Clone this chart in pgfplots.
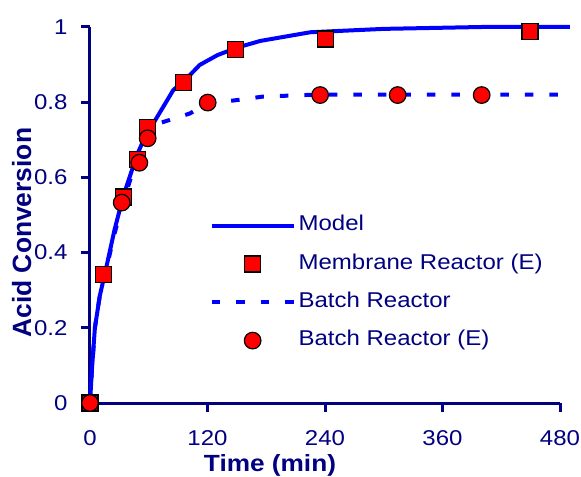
\documentclass[border=0pt]{standalone}
\usepackage{pgfplots}
\pgfplotsset{compat=1.18}
\usepackage{fontspec}
\setmainfont{Liberation Sans}[FakeStretch=1.12]
\newfontfamily\plainsans{Liberation Sans}
\definecolor{navy}{RGB}{0,0,128}
\definecolor{lblue}{RGB}{0,0,255}
\begin{document}
\begin{tikzpicture}
\begin{axis}[
  scale only axis, width=470bp, height=376bp,
  xmin=0, xmax=480, ymin=0, ymax=1,
  axis lines=left, axis line style={-, navy, line width=3bp},
  xtick={0,120,240,360,480}, ytick={0,0.2,0.4,0.6,0.8,1},
  tick style={navy, line width=3bp}, tick align=outside, major tick length=9bp,
  tick label style={font=\fontsize{21.5}{25}\selectfont, text=navy},
  xticklabel style={yshift=-15bp},
  yticklabel style={/pgf/number format/fixed, xshift=-10bp},
  /pgf/number format/assume math mode=true,
  xlabel={Time (min)}, ylabel={Acid Conversion},
  xlabel style={font=\fontsize{23.5}{27}\selectfont\bfseries, text=navy, at={(axis description cs:0.383,0)}, anchor=base, yshift=-68bp},
  ylabel style={font=\plainsans\fontsize{26.5}{30}\selectfont\bfseries, text=navy, at={(axis description cs:-0.1255,0.453)}, anchor=base, rotate=0},
  clip=false,
  legend cell align=left,
  legend style={draw=none, fill=none, inner sep=0pt, at={(axis cs:122,0.523)}, anchor=north west,
    font=\fontsize{21.5}{25}\selectfont, text=navy,
    nodes={text height=15bp, text depth=5bp, inner ysep=9.15bp, inner xsep=3bp}},
  legend image code/.code={\draw[mark repeat=2,mark phase=2,#1] plot coordinates {(0bp,0bp) (41bp,0bp) (82bp,0bp)};},
]
\addplot[lblue, line width=4bp, line join=round] coordinates {
(0,0) (2,0.09) (5,0.2) (10,0.285) (17,0.365) (25,0.46) (34,0.55) (48,0.66) (60,0.73) (65,0.745) (85,0.832) (102,0.872) (112,0.899) (130,0.925) (150,0.945) (174,0.963) (225,0.986) (300,0.995) (400,1.0) (490,1.0)};
\addlegendentry{Model}
\addplot[only marks, mark=square*, mark size=8bp, mark options={fill=red, draw=black, line width=1.2bp}] coordinates {
(0,0) (14,0.341) (34,0.548) (48.3,0.648) (58.9,0.733) (95.3,0.852) (148.8,0.941) (240.7,0.968) (449.4,0.989)};
\addlegendentry{Membrane Reactor (E)}
\addplot[lblue, line width=4bp, dash pattern=on 8.5bp off 16bp] coordinates {
(0,0) (2,0.09) (5,0.2) (10,0.285) (17,0.36) (25,0.45) (34,0.535) (41,0.593) (50,0.645) (58,0.695) (72,0.745) (102,0.77) (120,0.797) (133,0.80) (151,0.806) (177,0.815) (230,0.82) (480,0.82)};
\addlegendentry{Batch Reactor}
\addplot[only marks, mark=*, mark size=8.3bp, mark options={fill=red, draw=black, line width=1.2bp}] coordinates {
(0,0) (32.4,0.533) (50.4,0.639) (58.9,0.704) (120.2,0.799) (235,0.819) (314.2,0.819) (400,0.819)};
\addlegendentry{Batch Reactor (E)}
\end{axis}
\pgfresetboundingbox
\path (-90bp,-74bp) rectangle (491bp,403bp);
\end{tikzpicture}
\end{document}
